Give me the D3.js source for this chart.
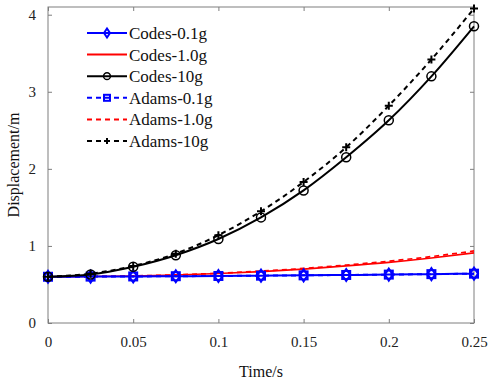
<!DOCTYPE html>
<html>
<head>
<meta charset="utf-8">
<script src="https://cdn.jsdelivr.net/npm/d3@7"></script>
<style>
body { margin: 0; background: #fff; }
</style>
</head>
<body>
<svg id="chart"></svg>
<script>
const width = 490, height = 385;
const margin = {top: 7, right: 16, bottom: 62, left: 48};
const serif = "'Liberation Serif', 'Times New Roman', serif";

// time samples (s)
const times = [0, 0.025, 0.05, 0.075, 0.1, 0.125, 0.15, 0.175, 0.2, 0.225, 0.25];
// displacement (m)
const codes01 = [0.6, 0.602, 0.604, 0.607, 0.61, 0.614, 0.618, 0.623, 0.628, 0.634, 0.64];
const codes10 = [0.6, 0.603, 0.61, 0.623, 0.642, 0.667, 0.7, 0.74, 0.786, 0.843, 0.91];
const codes100 = [0.6, 0.63, 0.73, 0.88, 1.09, 1.37, 1.72, 2.15, 2.63, 3.2, 3.85];
const adams01 = [0.6, 0.602, 0.604, 0.607, 0.61, 0.614, 0.618, 0.623, 0.628, 0.634, 0.64];
const adams10 = [0.6, 0.603, 0.611, 0.625, 0.646, 0.673, 0.708, 0.752, 0.802, 0.862, 0.935];
const adams100 = [0.6, 0.64, 0.74, 0.9, 1.14, 1.45, 1.83, 2.28, 2.82, 3.42, 4.08];

const xTicks = [0, 0.05, 0.1, 0.15, 0.2, 0.25];
const yTicks = [0, 1, 2, 3, 4];

const series = [
    {name: "Codes-0.1g", values: codes01, color: "#0000ff", dash: null, marker: "diamond"},
    {name: "Codes-1.0g", values: codes10, color: "#ff0000", dash: null, marker: null},
    {name: "Codes-10g", values: codes100, color: "#000000", dash: null, marker: "circle"},
    {name: "Adams-0.1g", values: adams01, color: "#0000ff", dash: "5,4", marker: "square"},
    {name: "Adams-1.0g", values: adams10, color: "#ff0000", dash: "5,4", marker: null},
    {name: "Adams-10g", values: adams100, color: "#000000", dash: "5,4", marker: "plus"}
];

const svg = d3.select("#chart").attr("width", width).attr("height", height);
const iw = width - margin.left - margin.right;
const ih = height - margin.top - margin.bottom;
const g = svg.append("g").attr("transform", `translate(${margin.left},${margin.top})`);

const x = d3.scaleLinear().domain([0, 0.25]).range([0, iw]);
const y = d3.scaleLinear().domain([0, 4.1]).range([ih, 0]);

// frame and ticks (mirrored, pointing in)
const axisColor = "#7f7f7f";
function styleAxis(sel) {
    sel.select(".domain").remove();
    sel.attr("font-family", serif);
    sel.selectAll(".tick line").attr("stroke", axisColor);
    sel.selectAll(".tick text").attr("fill", "#222").style("font-size", "15px")
        .style("font-family", serif);
}
g.append("g").attr("transform", `translate(0,${ih})`)
    .call(d3.axisBottom(x).tickValues(xTicks).tickSize(-4).tickPadding(13).tickFormat(d3.format("")))
    .call(styleAxis);
g.append("g")
    .call(d3.axisTop(x).tickValues(xTicks).tickSize(-4).tickFormat(""))
    .call(styleAxis);
g.append("g")
    .call(d3.axisLeft(y).tickValues(yTicks).tickSize(-4).tickPadding(12).tickFormat(d3.format("")))
    .call(styleAxis);
g.append("g").attr("transform", `translate(${iw},0)`)
    .call(d3.axisRight(y).tickValues(yTicks).tickSize(-4).tickFormat(""))
    .call(styleAxis);
g.append("rect").attr("width", iw).attr("height", ih)
    .attr("fill", "none").attr("stroke", axisColor).attr("stroke-width", 1);

// marker drawing
function drawMarker(sel, type, color, sc) {
    if (type === "circle") {
        sel.append("circle").attr("r", 4.5 * sc).attr("fill", "none").attr("stroke", color).attr("stroke-width", 1.5);
    } else if (type === "diamond") {
        sel.append("path").attr("d", `M0,${-6 * sc}L${4 * sc},0L0,${6 * sc}L${-4 * sc},0Z`)
            .attr("fill", "none").attr("stroke", color).attr("stroke-width", 2);
    } else if (type === "square") {
        sel.append("rect").attr("x", -4 * sc).attr("y", -4 * sc).attr("width", 8 * sc).attr("height", 8 * sc)
            .attr("fill", "none").attr("stroke", color).attr("stroke-width", 2);
    } else if (type === "plus") {
        sel.append("path").attr("d", `M${-4 * sc},0H${4 * sc}M0,${-4 * sc}V${4 * sc}`)
            .attr("stroke", color).attr("stroke-width", 2);
    }
}

const line = d3.line().curve(d3.curveMonotoneX)
    .x((d, i) => x(times[i])).y(d => y(d));

const plotOrder = [1, 4, 0, 3, 2, 5];
plotOrder.forEach(k => {
    const s = series[k];
    g.append("path").datum(s.values)
        .attr("d", line).attr("fill", "none")
        .attr("stroke", s.color).attr("stroke-width", s.marker ? 2 : 1.7)
        .attr("stroke-dasharray", s.dash);
    if (s.marker) {
        s.values.forEach((v, i) => {
            const m = g.append("g").attr("transform", `translate(${x(times[i])},${y(v)})`);
            drawMarker(m, s.marker, s.color, 1);
        });
    }
});

// legend
const legend = svg.append("g").attr("transform", "translate(87,33)");
series.forEach((s, i) => {
    const row = legend.append("g").attr("transform", `translate(0,${i * 21.6})`);
    row.append("line").attr("x1", 0).attr("x2", 40).attr("y1", 0).attr("y2", 0)
        .attr("stroke", s.color).attr("stroke-width", 2).attr("stroke-dasharray", s.dash);
    if (s.marker) {
        const m = row.append("g").attr("transform", "translate(20,0)");
        drawMarker(m, s.marker, s.color, 0.75);
    }
    row.append("text").attr("x", 42).attr("y", 0).attr("dy", "0.35em")
        .style("font-family", serif).style("font-size", "17px").attr("fill", "#111").text(s.name);
});

// axis titles
svg.append("text").attr("x", margin.left + iw / 2).attr("y", 377)
    .attr("text-anchor", "middle").style("font-family", serif).style("font-size", "16px")
    .attr("fill", "#111").text("Time/s");
svg.append("text").attr("transform", `translate(19,${margin.top + ih / 2}) rotate(-90)`)
    .attr("text-anchor", "middle").style("font-family", serif).style("font-size", "16px")
    .attr("fill", "#111").text("Displacement/m");
</script>
</body>
</html>
